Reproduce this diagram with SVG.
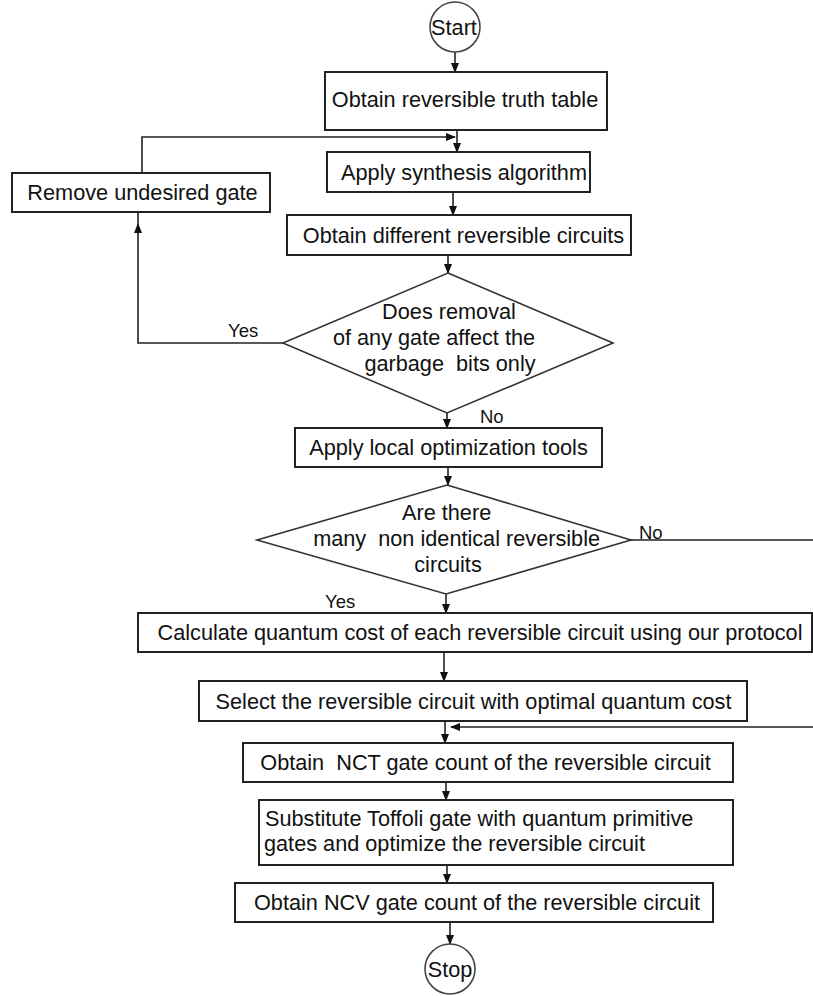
<svg xmlns="http://www.w3.org/2000/svg" width="813" height="996" viewBox="0 0 813 996">
<defs>
<style>
.box{fill:#fff;stroke:#222;stroke-width:2}
.dia{fill:#fff;stroke:#333;stroke-width:1.6}
.circ{fill:#fff;stroke:#444;stroke-width:1.6}
.t{font-family:"Liberation Sans",Arial,sans-serif;font-size:21.7px;fill:#111;text-anchor:middle}
.tl{font-family:"Liberation Sans",Arial,sans-serif;font-size:21.7px;fill:#111}
.lab{font-family:"Liberation Sans",Arial,sans-serif;font-size:18.5px;fill:#111}
.c{fill:none;stroke:#222;stroke-width:1.6}
</style>
<marker id="ah" markerWidth="10" markerHeight="8" refX="9" refY="4" orient="auto" markerUnits="userSpaceOnUse">
<path d="M0,0 L10,4 L0,8 z" fill="#111"/>
</marker>
</defs>
<rect width="813" height="996" fill="#fff"/>

<g id="connectors">
<path class="c" d="M455,52 V72" marker-end="url(#ah)"/>
<path class="c" d="M457,130 V152" marker-end="url(#ah)"/>
<path class="c" d="M142,173 V137 H455" marker-end="url(#ah)"/>
<path class="c" d="M453,192 V215" marker-end="url(#ah)"/>
<path class="c" d="M448,255 V273" marker-end="url(#ah)"/>
<path class="c" d="M283,343 H138 V224" marker-end="url(#ah)"/>
<path class="c" d="M138,224 V212"/>
<path class="c" d="M447,413 V428" marker-end="url(#ah)"/>
<path class="c" d="M448,467 V485" marker-end="url(#ah)"/>
<path class="c" d="M446,594 V613" marker-end="url(#ah)"/>
<path class="c" d="M444,652 V681" marker-end="url(#ah)"/>
<path class="c" d="M445,721 V743" marker-end="url(#ah)"/>
<path class="c" d="M631,540 H818 V727 H451" marker-end="url(#ah)"/>
<path class="c" d="M446,782 V800" marker-end="url(#ah)"/>
<path class="c" d="M447,865 V883" marker-end="url(#ah)"/>
<path class="c" d="M450,922 V944" marker-end="url(#ah)"/>
<text class="lab" x="228" y="337">Yes</text>
<text class="lab" x="480" y="423">No</text>
<text class="lab" x="639" y="539">No</text>
<text class="lab" x="325" y="608">Yes</text>
</g>

<g id="start">
<circle class="circ" cx="455" cy="27" r="25"/>
<text class="t" x="454" y="35">Start</text>
</g>

<g id="obtain-truth-table">
<rect class="box" x="325" y="72" width="282" height="58"/>
<text class="t" x="465" y="107">Obtain reversible truth table</text>
</g>

<g id="apply-synthesis">
<rect class="box" x="327" y="152" width="263" height="40"/>
<text class="t" x="464" y="180">Apply synthesis algorithm</text>
</g>

<g id="remove-gate">
<rect class="box" x="12" y="173" width="258" height="39"/>
<text class="t" x="142.5" y="200">Remove undesired gate</text>
</g>

<g id="obtain-circuits">
<rect class="box" x="287" y="215" width="344" height="40"/>
<text class="t" x="463.5" y="243">Obtain different reversible circuits</text>
</g>

<g id="decision-removal">
<polygon class="dia" points="448,273 613,343 447,413 283,343"/>
<text class="t" x="449" y="319">Does removal</text>
<text class="t" x="434" y="345">of any gate affect the</text>
<text class="t" x="450" y="371" xml:space="preserve">garbage  bits only</text>
</g>

<g id="local-optimization">
<rect class="box" x="295" y="428" width="307" height="39"/>
<text class="t" x="448.5" y="455">Apply local optimization tools</text>
</g>

<g id="decision-many">
<polygon class="dia" points="447,485 631,540 446,594 257,540"/>
<text class="t" x="446.6" y="520">Are there</text>
<text class="t" x="456.6" y="546" xml:space="preserve">many  non identical reversible</text>
<text class="t" x="448" y="572">circuits</text>
</g>

<g id="calculate-cost">
<rect class="box" x="138" y="613" width="674" height="39"/>
<text class="t" x="480" y="640">Calculate quantum cost of each reversible circuit using our protocol</text>
</g>

<g id="select-circuit">
<rect class="box" x="199" y="681" width="548" height="40"/>
<text class="t" x="473.5" y="708.5">Select the reversible circuit with optimal quantum cost</text>
</g>

<g id="nct-count">
<rect class="box" x="243" y="743" width="490" height="39"/>
<text class="t" x="485.5" y="770" xml:space="preserve">Obtain  NCT gate count of the reversible circuit</text>
</g>

<g id="substitute-toffoli">
<rect class="box" x="259" y="800" width="474" height="65"/>
<text class="tl" x="265" y="826">Substitute Toffoli gate with quantum primitive</text>
<text class="tl" x="264" y="851">gates and optimize the reversible circuit</text>
</g>

<g id="ncv-count">
<rect class="box" x="235" y="883" width="478" height="39"/>
<text class="t" x="477" y="910">Obtain NCV gate count of the reversible circuit</text>
</g>

<g id="stop">
<circle class="circ" cx="450" cy="969" r="25"/>
<text class="t" x="450" y="977">Stop</text>
</g>
</svg>
